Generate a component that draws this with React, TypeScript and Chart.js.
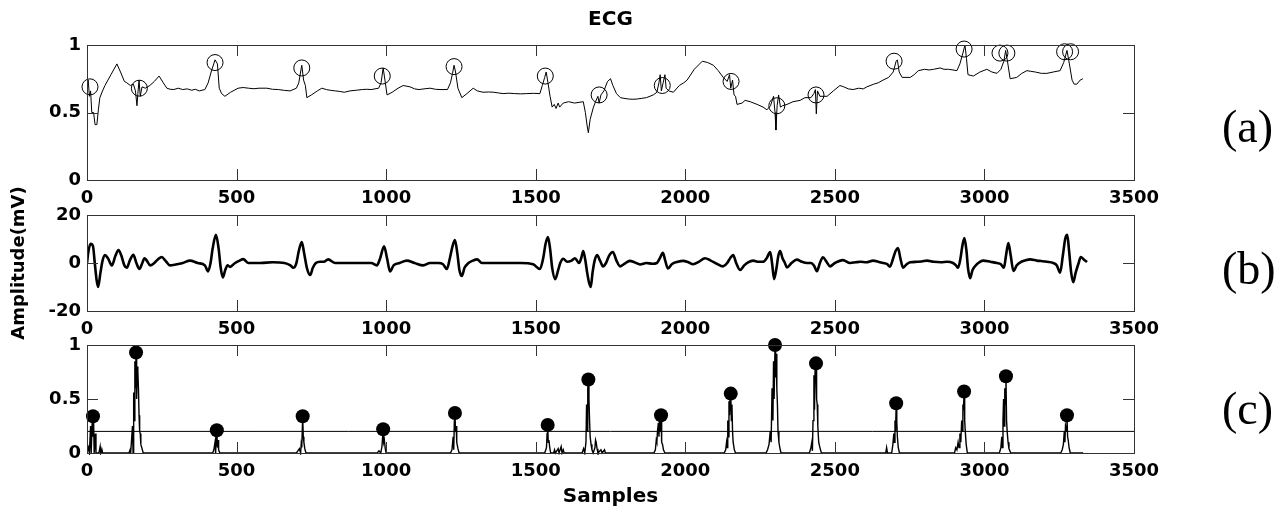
import React, { useEffect, useRef } from "react";
import { Chart, registerables } from "chart.js";

Chart.register(...registerables);

// ---------- data ----------
const X_MAX = 3500;
const X_STEP = 500;

// (a) raw ECG (sample, mV)
const ecgTrace: [number, number][] = [
  [0, 0.69], [4, 0.74], [8, 0.62], [12, 0.66], [16, 0.5], [22, 0.5], [27, 0.41], [33, 0.41], [38, 0.52], [43, 0.61],
  [52, 0.66], [60, 0.7], [80, 0.78], [100, 0.86], [112, 0.8], [125, 0.73], [133, 0.72], [145, 0.7], [155, 0.71], [162, 0.66],
  [167, 0.55], [170, 0.64], [174, 0.74], [178, 0.62], [184, 0.69], [195, 0.68], [210, 0.7], [225, 0.73], [241, 0.77], [255, 0.72],
  [267, 0.68], [278, 0.672], [290, 0.67], [305, 0.68], [320, 0.67], [335, 0.675], [350, 0.665], [362, 0.672], [375, 0.66], [394, 0.67], [405, 0.72], [415, 0.8],
  [428, 0.89], [436, 0.86], [442, 0.68], [450, 0.64], [461, 0.62], [480, 0.65], [505, 0.68], [522, 0.685], [540, 0.68], [558, 0.676], [575, 0.68], [601, 0.68],
  [620, 0.672], [640, 0.67], [660, 0.664], [679, 0.66], [700, 0.68], [708, 0.72], [714, 0.8], [718, 0.85], [724, 0.74], [730, 0.7], [735, 0.61], [750, 0.63],
  [770, 0.66], [785, 0.68], [800, 0.67], [815, 0.664], [830, 0.66], [845, 0.656], [860, 0.65], [879, 0.66], [900, 0.665], [920, 0.67], [935, 0.672], [950, 0.67], [975, 0.68], [983, 0.72],
  [990, 0.83], [996, 0.74], [1003, 0.63], [1020, 0.65], [1040, 0.68], [1057, 0.7], [1080, 0.69], [1095, 0.675], [1110, 0.67], [1130, 0.676], [1147, 0.68], [1165, 0.672], [1180, 0.67],
  [1205, 0.67], [1215, 0.72], [1222, 0.79], [1227, 0.85], [1232, 0.8], [1240, 0.68], [1253, 0.61], [1270, 0.64], [1291, 0.68], [1305, 0.66],
  [1324, 0.65], [1342, 0.652], [1360, 0.65], [1375, 0.645], [1391, 0.64], [1410, 0.643], [1430, 0.64], [1450, 0.638], [1470, 0.64], [1492, 0.642], [1514, 0.64], [1522, 0.7], [1530, 0.76], [1535, 0.8], [1541, 0.72],
  [1548, 0.62], [1555, 0.54], [1562, 0.56], [1568, 0.53], [1575, 0.57], [1580, 0.54], [1592, 0.57], [1610, 0.58], [1630, 0.57], [1659, 0.58],
  [1666, 0.5], [1672, 0.4], [1676, 0.35], [1682, 0.45], [1693, 0.54], [1700, 0.58], [1708, 0.62], [1712, 0.57], [1718, 0.63], [1728, 0.66],
  [1740, 0.73], [1750, 0.75], [1758, 0.7], [1770, 0.64], [1783, 0.61], [1795, 0.605], [1810, 0.6], [1825, 0.598], [1839, 0.6], [1855, 0.605], [1870, 0.61], [1893, 0.63], [1905, 0.65],
  [1912, 0.72], [1916, 0.78], [1920, 0.66], [1926, 0.72], [1932, 0.78], [1936, 0.68], [1945, 0.66], [1960, 0.65], [1980, 0.7], [1995, 0.72],
  [2006, 0.74], [2030, 0.82], [2057, 0.88], [2075, 0.87], [2094, 0.85], [2110, 0.81], [2127, 0.76], [2140, 0.73], [2148, 0.78], [2152, 0.68],
  [2158, 0.74], [2163, 0.63], [2168, 0.62], [2173, 0.56], [2190, 0.57], [2200, 0.59], [2217, 0.58], [2240, 0.56], [2260, 0.54], [2273, 0.52],
  [2285, 0.55], [2295, 0.62], [2300, 0.5], [2303, 0.37], [2307, 0.55], [2312, 0.63], [2318, 0.54], [2325, 0.55], [2340, 0.56], [2360, 0.58],
  [2384, 0.59], [2400, 0.61], [2420, 0.61], [2430, 0.64], [2435, 0.67], [2438, 0.49], [2442, 0.66], [2450, 0.62], [2474, 0.62], [2495, 0.66],
  [2517, 0.7], [2530, 0.69], [2545, 0.675], [2561, 0.67], [2580, 0.68], [2595, 0.675], [2607, 0.69], [2630, 0.71], [2645, 0.72], [2661, 0.74], [2680, 0.76], [2695, 0.8], [2705, 0.88],
  [2709, 0.89], [2715, 0.8], [2725, 0.76], [2752, 0.76], [2765, 0.78], [2779, 0.81], [2800, 0.82], [2815, 0.815], [2830, 0.82], [2852, 0.83], [2865, 0.82], [2880, 0.82],
  [2895, 0.815], [2908, 0.81], [2918, 0.86], [2928, 0.94], [2935, 1.0], [2940, 0.9], [2945, 0.78], [2963, 0.77], [2985, 0.8], [3008, 0.82], [3025, 0.8],
  [3042, 0.79], [3055, 0.82], [3065, 0.88], [3071, 0.96], [3077, 0.88], [3086, 0.75], [3108, 0.76], [3125, 0.79], [3142, 0.81], [3155, 0.805], [3170, 0.8],
  [3190, 0.79], [3209, 0.79], [3230, 0.8], [3253, 0.81], [3265, 0.87], [3276, 0.96], [3284, 0.86], [3293, 0.74], [3300, 0.71], [3309, 0.71],
  [3320, 0.74], [3329, 0.75],
];

// (a) detected R-peak markers (open circles)
const rPeakMarks: [number, number][] = [
  [10, 0.69], [175, 0.68], [428, 0.87], [718, 0.83], [987, 0.77], [1227, 0.84], [1532, 0.77], [1712, 0.63], [1923, 0.7],
  [2153, 0.73], [2306, 0.55], [2437, 0.63], [2698, 0.88], [2932, 0.97], [3052, 0.94], [3075, 0.94], [3268, 0.95], [3288, 0.95],
];

// (b) filtered signal
const filteredTrace: [number, number][] = [
  [0, 0], [5, 5], [12, 8], [20, 7], [26, 0], [32, -7], [37, -10], [45, -4], [52, 1], [60, 3.3], [70, 2], [83, -1], [95, 3], [105, 5.4],
  [115, 3], [125, -1], [133, -2], [143, 1], [155, 3.4], [165, 0], [175, -2.5], [185, 0], [192, 2], [200, 1], [211, -1], [225, 0], [237, 1.5],
  [250, 2.5], [262, 1], [277, -1], [300, -0.5], [320, 0], [344, 1], [370, 0], [394, -1], [405, -3.5], [413, 0], [420, 6], [431, 11.7], [440, 6],
  [447, -2], [454, -6], [462, -3], [470, -1], [478, -1.6], [495, 0], [510, 1], [522, 1.6], [540, 0], [580, 0], [620, 0.3], [660, 0], [680, -1],
  [690, -2], [700, 0], [708, 5], [718, 8.7], [726, 4], [735, -2], [746, -5], [755, -2], [765, 0], [779, 0.5], [792, 0.5], [806, 1.5], [830, 0],
  [870, 0], [910, 0], [950, 0], [969, -1], [980, 2], [993, 7], [1003, 2], [1013, -3.5], [1025, -1], [1045, 0], [1069, 1], [1095, 0], [1124, -1],
  [1147, 0], [1175, 0], [1190, -0.5], [1203, -2.5], [1213, 2], [1222, 7], [1230, 9.6], [1238, 4], [1245, -3], [1253, -5.4], [1262, -2],
  [1275, 0], [1290, 1], [1304, 1.5], [1320, 0], [1347, 0], [1400, 0], [1450, 0], [1491, -0.5], [1514, -2.5], [1525, 2], [1533, 8], [1541, 10.8],
  [1548, 6], [1555, -2], [1565, -6.7], [1575, -3], [1582, 0], [1592, 1.8], [1605, 0.5], [1620, 1], [1631, 2], [1645, 0], [1652, 2], [1659, 5],
  [1666, 1], [1672, -4], [1678, -8], [1684, -10], [1690, -4], [1697, 1], [1705, 3.3], [1715, 1], [1725, -1.4], [1735, 0], [1745, 3], [1758, 4.6],
  [1770, 1], [1782, -1.4], [1795, -0.5], [1815, 0.9], [1830, 0.3], [1849, -0.6], [1870, 0], [1890, -0.3], [1905, 0], [1915, 2], [1925, 4.2],
  [1933, 1], [1942, -2.3], [1955, -0.5], [1975, 0.5], [1993, 0.9], [2010, 0.3], [2026, -0.5], [2045, 0.5], [2066, 2], [2085, 1], [2105, -0.3],
  [2126, -1.4], [2140, 0], [2150, 2], [2160, 3.3], [2170, 0], [2183, -2.9], [2197, -1], [2210, 0.3], [2227, 1], [2245, 0.5], [2260, 0.5],
  [2272, 2], [2284, 4.6], [2290, 0], [2297, -6.7], [2305, -2], [2311, 3], [2317, 5], [2325, 2], [2333, 0], [2340, -1.9], [2355, 0], [2373, 1.4],
  [2390, 0.5], [2407, 0], [2420, 0], [2430, -1], [2440, -3.4], [2450, 0], [2460, 2.4], [2472, 0.5], [2484, -1.4], [2500, 0], [2527, 1.2],
  [2551, 0], [2570, 0.3], [2585, 0.5], [2605, 0.3], [2628, 1], [2645, 0.5], [2662, 0], [2675, -0.5], [2684, -1.5], [2695, 2], [2703, 5],
  [2711, 6.2], [2719, 2], [2728, -2], [2740, -0.5], [2752, 0.3], [2775, 0.5], [2790, 0.6], [2808, 1], [2830, 0.5], [2855, 0.3], [2875, 0.5],
  [2895, 0], [2905, -1], [2912, -2], [2920, 2], [2926, 7], [2933, 10.4], [2940, 5], [2945, -2], [2952, -6.3], [2960, -3], [2975, -0.5],
  [2985, 0.5], [2996, 1], [3020, 0.5], [3042, 0], [3055, -0.5], [3065, -2], [3072, 3], [3080, 8.3], [3088, 3], [3097, -3.3], [3108, -1],
  [3120, 0.3], [3135, 1], [3153, 1.5], [3175, 1], [3190, 0.8], [3209, 0.5], [3230, 0], [3242, -1], [3253, -4], [3262, 3], [3270, 10],
  [3277, 11.7], [3283, 5], [3290, -4], [3297, -8], [3305, -4], [3315, 0], [3322, 2.5], [3332, 1.5], [3343, 0.4],
];

// (c) normalised energy spikes
const energySpikes: [number, number][] = [
  [0, 0], [5, 0.05], [8, 0], [12, 0.25], [14, 0], [18, 0.34], [20, 0.15], [22, 0.3], [24, 0], [28, 0.18], [30, 0], [40, 0], [44, 0.06], [46, 0], [50, 0.03], [52, 0],
  [140, 0], [144, 0.03], [146, 0], [152, 0.25], [154, 0], [156, 0.56], [158, 0.3], [160, 0.85], [162, 0.6], [164, 0.93], [166, 0.5], [168, 0.8], [170, 0.75],
  [172, 0.6], [174, 0.35], [176, 0.2], [178, 0.18], [180, 0.08], [184, 0.04], [188, 0],
  [420, 0], [424, 0.03], [428, 0.1], [430, 0], [432, 0.15], [434, 0.21], [436, 0.05], [438, 0.12], [440, 0.03], [444, 0],
  [700, 0], [705, 0.02], [710, 0.04], [714, 0], [716, 0.08], [718, 0.05], [721, 0.34], [723, 0.15], [725, 0.1], [728, 0.04], [732, 0],
  [970, 0], [976, 0.02], [982, 0], [986, 0.06], [990, 0.22], [992, 0.1], [994, 0.12], [997, 0.04], [1000, 0],
  [1215, 0], [1220, 0.03], [1224, 0.15], [1226, 0.03], [1228, 0.3], [1230, 0.37], [1232, 0.2], [1234, 0.25], [1236, 0.1], [1240, 0.04], [1244, 0],
  [1530, 0], [1536, 0.05], [1538, 0.18], [1540, 0.26], [1542, 0.1], [1544, 0.12], [1547, 0.05], [1550, 0], [1560, 0], [1563, 0.03], [1566, 0],
  [1575, 0.04], [1578, 0], [1585, 0.06], [1588, 0], [1592, 0.03], [1595, 0],
  [1655, 0], [1660, 0.04], [1664, 0], [1668, 0.1], [1670, 0.45], [1672, 0.2], [1674, 0.6], [1676, 0.68], [1678, 0.5], [1680, 0.3], [1682, 0.15],
  [1685, 0.08], [1688, 0.03], [1692, 0], [1698, 0.05], [1700, 0.12], [1702, 0.1], [1705, 0.04], [1708, 0], [1718, 0.03], [1722, 0], [1730, 0.03], [1733, 0],
  [1895, 0], [1900, 0.03], [1903, 0.12], [1905, 0.1], [1907, 0.2], [1910, 0.28], [1912, 0.15], [1914, 0.3], [1917, 0.2], [1919, 0.35], [1921, 0.1],
  [1924, 0.08], [1927, 0.03], [1932, 0],
  [2130, 0], [2135, 0.03], [2138, 0.1], [2140, 0.05], [2142, 0.3], [2144, 0.15], [2146, 0.48], [2148, 0.35], [2150, 0.52], [2152, 0.55], [2154, 0.3],
  [2156, 0.45], [2158, 0.2], [2160, 0.1], [2164, 0.03], [2168, 0],
  [2270, 0], [2275, 0.03], [2280, 0.08], [2284, 0.2], [2287, 0.1], [2290, 0.6], [2293, 0.3], [2295, 0.85], [2297, 0.5], [2300, 1.0], [2302, 0.7],
  [2304, 0.92], [2306, 0.6], [2308, 0.45], [2310, 0.2], [2313, 0.1], [2316, 0.05], [2320, 0],
  [2415, 0], [2420, 0.05], [2423, 0.1], [2425, 0.02], [2427, 0.3], [2430, 0.72], [2432, 0.4], [2434, 0.78], [2437, 0.83], [2439, 0.5], [2441, 0.45],
  [2443, 0.25], [2446, 0.1], [2450, 0.05], [2455, 0],
  [2670, 0], [2673, 0.05], [2676, 0], [2690, 0], [2694, 0.08], [2697, 0.18], [2699, 0.1], [2701, 0.3], [2703, 0.2], [2705, 0.46], [2707, 0.3],
  [2709, 0.15], [2712, 0.05], [2716, 0],
  [2900, 0], [2904, 0.05], [2908, 0.03], [2912, 0.1], [2915, 0.05], [2918, 0.18], [2921, 0.1], [2924, 0.3], [2926, 0.2], [2928, 0.45], [2930, 0.4],
  [2932, 0.57], [2934, 0.3], [2936, 0.2], [2939, 0.08], [2943, 0],
  [3050, 0], [3055, 0.05], [3058, 0.15], [3060, 0.05], [3062, 0.3], [3064, 0.5], [3066, 0.25], [3068, 0.6], [3070, 0.45], [3072, 0.71], [3074, 0.3],
  [3076, 0.2], [3079, 0.1], [3082, 0.04], [3088, 0],
  [3255, 0], [3260, 0.03], [3264, 0.08], [3267, 0.2], [3269, 0.1], [3271, 0.25], [3274, 0.2], [3276, 0.35], [3278, 0.15], [3280, 0.12], [3283, 0.05],
  [3287, 0], [3330, 0],
];

// (c) detected peaks (filled dots)
const energyPeaks: [number, number][] = [
  [20, 0.34], [164, 0.93], [434, 0.21], [721, 0.34], [990, 0.22], [1230, 0.37], [1540, 0.26], [1676, 0.68], [1919, 0.35],
  [2152, 0.55], [2300, 1.0], [2437, 0.83], [2705, 0.46], [2932, 0.57], [3072, 0.71], [3276, 0.35],
];

// (c) threshold
const thresholdLine: [number, number][] = [[0, 0.2], [3500, 0.2]];

// ---------- helpers ----------
const toXY = (arr: [number, number][]) => arr.map(([x, y]) => ({ x, y }));

const TICK_FONT = { family: "'DejaVu Sans', sans-serif", size: 18, weight: "bold" as const };
const TITLE_FONT = { family: "'DejaVu Sans', sans-serif", size: 20, weight: "bold" as const };

const W = 1287;
const AREA_LEFT = 87;
const AREA_RIGHT = 1134;

const plainLabel = (v: any) => String(Math.round(Number(v) * 100) / 100);

const boxTicksPlugin = {
  id: "boxTicks",
  afterDatasetsDraw(chart: any) {
    const { ctx, chartArea: a, scales } = chart;
    const L = 11;
    ctx.save();
    ctx.strokeStyle = "#333";
    ctx.lineWidth = 1;
    ctx.strokeRect(Math.round(a.left) + 0.5, Math.round(a.top) + 0.5, Math.round(a.width), Math.round(a.height));
    ctx.beginPath();
    scales.x.ticks.forEach((t: any) => {
      const px = Math.round(scales.x.getPixelForValue(t.value)) + 0.5;
      if (px <= a.left + 2 || px >= a.right - 2) return;
      ctx.moveTo(px, a.bottom);
      ctx.lineTo(px, a.bottom - L);
      ctx.moveTo(px, a.top);
      ctx.lineTo(px, a.top + L);
    });
    scales.y.ticks.forEach((t: any) => {
      const py = Math.round(scales.y.getPixelForValue(t.value)) + 0.5;
      if (py <= a.top + 2 || py >= a.bottom - 2) return;
      ctx.moveTo(a.left, py);
      ctx.lineTo(a.left + L, py);
      ctx.moveTo(a.right, py);
      ctx.lineTo(a.right - L, py);
    });
    ctx.stroke();
    ctx.restore();
  },
};

type PanelCfg = {
  height: number;
  areaTop: number; // relative to canvas
  areaBottom: number; // relative to canvas
  yMin: number;
  yMax: number;
  yStep: number;
  datasets: any[];
  title?: string;
  xTitle?: string;
  yTitle?: string;
};

function buildConfig(p: PanelCfg): any {
  return {
    type: "scatter",
    data: { datasets: p.datasets },
    plugins: [boxTicksPlugin],
    options: {
      animation: false,
      responsive: false,
      devicePixelRatio: 1,
      events: [],
      layout: {
        padding: { top: p.title ? 0 : p.areaTop, left: 0, right: W - AREA_RIGHT, bottom: 0 },
      },
      plugins: {
        legend: { display: false },
        tooltip: { enabled: false },
        title: p.title
          ? {
              display: true,
              text: p.title,
              color: "#000",
              font: TITLE_FONT,
              fullSize: false,
              padding: { top: 8, bottom: p.areaTop - 8 - 24 },
            }
          : { display: false },
      },
      scales: {
        x: {
          type: "linear",
          min: 0,
          max: X_MAX,
          grid: { display: false, drawTicks: false },
          border: { display: false },
          ticks: {
            stepSize: X_STEP,
            color: "#000",
            font: TICK_FONT,
            padding: 8,
            maxRotation: 0,
            autoSkip: false,
            callback: plainLabel,
          },
          title: p.xTitle
            ? { display: true, text: p.xTitle, color: "#000", font: TITLE_FONT, padding: { top: 0, bottom: 1 } }
            : { display: false },
          afterFit: (s: any) => {
            s.height = p.height - p.areaBottom;
          },
        },
        y: {
          type: "linear",
          min: p.yMin,
          max: p.yMax,
          grid: { display: false, drawTicks: false },
          border: { display: false },
          ticks: { stepSize: p.yStep, color: "#000", font: TICK_FONT, padding: 6, callback: plainLabel },
          title: p.yTitle
            ? { display: true, text: p.yTitle, color: "#000", font: { ...TICK_FONT }, padding: { top: 9, bottom: 0 } }
            : { display: false },
          afterFit: (s: any) => {
            s.width = AREA_LEFT;
          },
        },
      },
    },
  };
}

function Panel({ top, cfg }: { top: number; cfg: PanelCfg }) {
  const ref = useRef<HTMLCanvasElement | null>(null);
  useEffect(() => {
    if (!ref.current) return;
    const chart = new Chart(ref.current, buildConfig(cfg));
    return () => chart.destroy();
  }, []);
  return (
    <canvas
      ref={ref}
      width={W}
      height={cfg.height}
      style={{ position: "absolute", left: 0, top, width: W, height: cfg.height }}
    />
  );
}

const lineDs = (data: [number, number][], width: number, smooth = false) => ({
  data: toXY(data),
  showLine: true,
  borderColor: "#000",
  borderWidth: width,
  pointRadius: 0,
  tension: smooth ? 0.4 : 0,
  cubicInterpolationMode: smooth ? "monotone" : "default",
});

const panelA: PanelCfg = {
  height: 212,
  areaTop: 45,
  areaBottom: 180,
  yMin: 0,
  yMax: 1,
  yStep: 0.5,
  title: "ECG",
  datasets: [
    lineDs(ecgTrace, 1),
    {
      data: toXY(rPeakMarks),
      showLine: false,
      pointRadius: 8,
      pointBorderWidth: 1,
      pointBorderColor: "#000",
      pointBackgroundColor: "rgba(0,0,0,0)",
      clip: false,
    },
  ],
};

// panel (b) canvas starts 50px above its plot area so the long axis title fits
const panelB: PanelCfg = {
  height: 196,
  areaTop: 70,
  areaBottom: 166,
  yMin: -20,
  yMax: 20,
  yStep: 20,
  yTitle: "Amplitude(mV)",
  datasets: [lineDs(filteredTrace, 2.6, true)],
};

const panelC: PanelCfg = {
  height: 185,
  areaTop: 20,
  areaBottom: 128,
  yMin: 0,
  yMax: 1,
  yStep: 0.5,
  xTitle: "Samples",
  datasets: [
    lineDs(thresholdLine, 1),
    { ...lineDs(energySpikes, 1.4), clip: { left: 0, top: 0, right: 0, bottom: 2 } },
    {
      data: toXY(energyPeaks),
      showLine: false,
      pointRadius: 7,
      pointBorderWidth: 0,
      pointBackgroundColor: "#000",
      clip: false,
    },
  ],
};

const labelStyle = (top: number): React.CSSProperties => ({
  position: "absolute",
  left: 1222,
  top,
  fontFamily: "'Liberation Serif', 'Times New Roman', serif",
  fontSize: 46,
  lineHeight: "46px",
  color: "#000",
  whiteSpace: "nowrap",
});

export default function App() {
  return (
    <div style={{ position: "absolute", left: 0, top: 0, width: W, height: 510, background: "#fff", overflow: "hidden" }}>
      <Panel top={0} cfg={panelA} />
      <Panel top={145} cfg={panelB} />
      <Panel top={325} cfg={panelC} />
      <div style={labelStyle(104)}>(a)</div>
      <div style={labelStyle(246)}>(b)</div>
      <div style={labelStyle(386)}>(c)</div>
    </div>
  );
}
